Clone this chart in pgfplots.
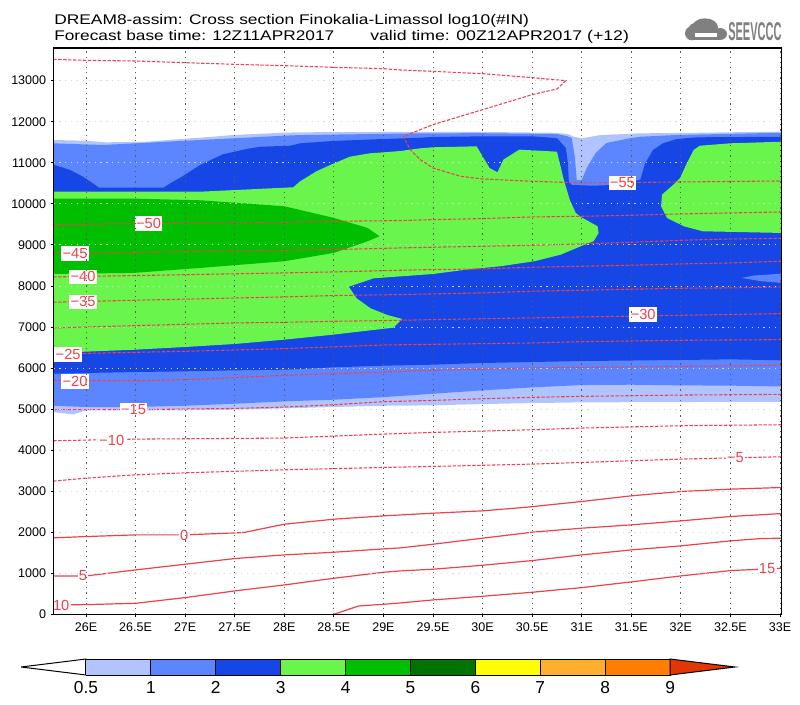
\documentclass[border=0pt]{standalone}
\usepackage{pgfplots}
\pgfplotsset{compat=1.18}
\usepackage{fontspec}
\setmainfont{Liberation Sans}
\definecolor{lvA}{RGB}{178,196,255}
\definecolor{lvB}{RGB}{92,134,255}
\definecolor{lvC}{RGB}{22,70,230}
\definecolor{lvD}{RGB}{105,245,75}
\definecolor{lvE}{RGB}{0,190,0}
\definecolor{lvF}{RGB}{0,115,0}
\definecolor{lvG}{RGB}{255,255,0}
\definecolor{lvH}{RGB}{255,175,45}
\definecolor{lvI}{RGB}{255,125,0}
\definecolor{lvJ}{RGB}{225,55,5}
\definecolor{con}{RGB}{240,65,75}
\definecolor{logo}{RGB}{128,128,128}
\tikzset{
  dcon/.style={con,line width=.8pt,dash pattern=on 2.5pt off 1.2pt},
  scon/.style={con,line width=.9pt},
  lab/.style={fill=white,text=con,inner xsep=1pt,inner ysep=1.5pt,font=\fontsize{11pt}{12pt}\selectfont},
  cell/.style={draw=black,line width=.75pt},
}
\begin{document}
\begin{tikzpicture}
\path[use as bounding box] (0,0) rectangle (600pt,528pt);
\begin{axis}[
  at={(40.125pt,67.275pt)}, anchor=south west,
  scale only axis, width=546pt, height=424.7pt,
  xmin=25.672, xmax=33.015, ymin=0, ymax=13795,
  scaled ticks=false,
  axis on top,
  axis line style={line width=1.2pt},
  xtick={26,26.5,27,27.5,28,28.5,29,29.5,30,30.5,31,31.5,32,32.5,33},
  xticklabels={26E,26.5E,27E,27.5E,28E,28.5E,29E,29.5E,30E,30.5E,31E,31.5E,32E,32.5E,33E},
  ytick={0,1000,2000,3000,4000,5000,6000,7000,8000,9000,10000,11000,12000,13000},
  yticklabels={0,1000,2000,3000,4000,5000,6000,7000,8000,9000,10000,11000,12000,13000},
  xtick pos=bottom, ytick pos=left,
  tick align=outside, major tick length=2pt,
  tick style={black,line width=.6pt},
  tick label style={font=\fontsize{9.4pt}{11pt}\selectfont},
  xticklabel style={yshift=-1pt},
  xmajorgrids, ymajorgrids,
  x grid style={draw=black!65,line width=.6pt,dash pattern=on .9pt off 3pt},
  y grid style={draw=black!15,line width=.6pt,dash pattern=on .9pt off 3.5pt},
  no markers,
]
% log10(#IN) >= 0.5
\addplot[fill=lvA,draw=none] coordinates {(25.67,11554)(26,11537)(26.2,11498)(26.6,11510)(26.95,11578)(27.28,11634)(27.48,11676)(27.99,11732)(28.16,11742)(29,11750)(30,11750)(30.73,11730)(30.86,11700)(30.92,11634)(31,11595)(31.19,11676)(31.59,11717)(32,11725)(32.5,11742)(33.02,11757)
 (33.02,5178)(31,5163)(30.5,5146)(30,5122)(29.5,5090)(29,5080)(28.5,5050)(28,5016)(27.5,4984)(27,4970)(26.5,4970)(26,4967)(25.87,4870)(25.67,4927)};
% >= 1
\addplot[fill=lvB,draw=none] coordinates {(25.67,11473)(26.17,11433)(26.95,11530)(27.28,11571)(27.48,11595)(27.99,11659)(28.16,11675)(29.37,11717)(30,11720)(30.75,11700)(30.85,11650)(30.90,11603)(30.93,11147)(30.95,10580)(31,10580)(31.05,10872)(31.14,11238)(31.25,11482)(31.49,11600)(31.59,11634)(31.95,11676)(33.02,11732)
 (33.02,5550)(32.5,5570)(32,5577)(31.5,5593)(31,5585)(30.5,5528)(30,5455)(29.5,5373)(29,5290)(28.5,5228)(28,5187)(27.5,5130)(27,5081)(26.5,5050)(26,5050)(25.67,5081)};
% >= 2
\addplot[fill=lvC,draw=none] coordinates {(25.67,10955)(25.84,10823)(25.97,10660)(26.07,10499)(26.13,10392)(26.78,10392)(26.85,10499)(26.95,10636)(27.15,10945)(27.38,11206)(27.62,11335)(27.76,11391)(28.06,11415)(28.16,11474)(28.49,11530)(29,11579)(29.37,11610)(29.5,11628)(30,11644)(30.5,11644)(30.75,11600)(30.84,11360)(30.86,10995)(30.87,10538)(30.90,10458)(31.12,10441)(31.3,10458)(31.59,10584)(31.64,10986)(31.72,11313)(31.82,11474)(31.96,11578)(32.16,11620)(33.02,11634)
 (33.02,6187)(32.5,6211)(32,6195)(31,6170)(30.5,6146)(30,6122)(29.5,6081)(29,6057)(28.5,6016)(28,5959)(27.5,5943)(27,5919)(26.5,5902)(25.67,5862)};
\addplot[fill=lvB,draw=none] coordinates {(32.61,8195)(32.74,8252)(33.02,8300)(33.02,8073)(32.81,8114)};
% >= 3
\addplot[fill=lvD,draw=none] coordinates {(25.67,10295)(27.15,10295)(28.09,10403)(28.16,10549)(28.33,10800)(28.48,10962)(28.66,11147)(28.86,11230)(29,11254)(29.17,11286)(29.37,11352)(29.5,11377)(29.94,11401)(30.07,10873)(30.15,10768)(30.21,11076)(30.37,11320)(30.75,11270)(30.82,10580)(30.88,10092)(30.94,9778)(30.99,9680)(31.16,9453)(31.17,9290)(31.12,9088)(30.99,8966)(30.79,8763)(30.52,8600)(30.18,8479)(29.84,8398)(29.5,8290)
 (28.90,8185)(28.65,7981)(28.73,7698)(28.87,7454)(29.04,7291)(29.19,7194)(29.10,6982)(28.46,6804)(28,6691)(27.5,6585)(27,6512)(26.5,6447)(25.67,6366)};
\addplot[fill=lvD,draw=none] coordinates {(32.19,11415)(32.5,11474)(33.02,11513)(33.02,9290)(32.22,9331)(32.03,9453)(31.86,9656)(31.8,9940)(31.81,10224)(31.94,10499)(31.99,10621)(32.06,10986)(32.13,11313)};
% >= 4
\addplot[fill=lvE,draw=none] coordinates {(25.67,10127)(26.48,10127)(27.15,10086)(28,9940)(28.5,9656)(28.84,9412)(28.96,9209)(28.84,9088)(28.5,8804)(28,8601)(27.15,8438)(26.48,8317)(25.67,8292)};
% temperature contours
\addplot[dcon] coordinates {(25.67,13519)(26,13495)(26.5,13479)(27,13438)(27.5,13398)(28,13365)(28.5,13325)(29,13292)(29.17,13260)(29.5,13227)(30,13170)(30.5,13073)(30.84,13000)(30.75,12797)(30.5,12659)(30,12294)(29.5,11929)(29.2,11644)(29.27,11320)(29.37,11076)(29.5,10873)(29.78,10670)(30,10605)(30.5,10549)(31,10508)(32,10532)(33.02,10557)};
\addplot[dcon] coordinates {(25.67,9493)(26.5,9518)(28,9550)(28.5,9575)(29.17,9591)(29.5,9615)(30,9640)(30.5,9680)(31,9696)(31.5,9721)(32,9753)(32.5,9778)(33.02,9802)};
\addplot[dcon] coordinates {(25.67,8803)(26.5,8820)(28,8868)(28.5,8885)(29.17,8925)(29.5,8942)(30,8966)(30.5,8990)(31,9023)(31.5,9063)(32,9112)(32.5,9144)(33.02,9161)};
\addplot[dcon] coordinates {(25.67,8219)(26.5,8252)(28,8317)(28.5,8341)(29.17,8381)(29.5,8398)(30,8414)(30.5,8455)(31,8479)(31.5,8503)(32,8536)(32.5,8560)(33.02,8601)};
\addplot[dcon] coordinates {(25.67,7602)(26.5,7651)(28,7732)(28.5,7765)(29.17,7789)(30,7830)(30.5,7870)(31,7894)(31.5,7919)(32,7943)(32.5,7951)(33.02,7976)};
\addplot[dcon] coordinates {(25.67,6976)(26.5,7033)(27,7065)(27.5,7098)(28,7114)(28.5,7138)(29,7154)(29.5,7179)(31,7244)(33.02,7325)};
\addplot[dcon] coordinates {(25.67,6341)(26.5,6382)(27,6407)(28,6472)(29,6561)(30.5,6610)(31,6642)(32,6675)(33.02,6691)};
\addplot[dcon] coordinates {(25.67,5699)(26.5,5691)(27,5715)(28,5821)(29,5902)(29.5,5943)(30.5,6000)(32,6041)(33.02,6065)};
\addplot[dcon] coordinates {(25.67,4984)(26.5,4984)(27.5,5016)(28,5049)(28.5,5106)(29,5179)(29.5,5211)(30,5252)(30.5,5285)(31,5309)(32,5341)(33.02,5358)};
\addplot[dcon] coordinates {(25.67,4228)(26.5,4268)(28,4293)(28.5,4342)(29,4390)(29.5,4431)(30.5,4496)(31,4537)(32,4594)(33.02,4618)};
\addplot[dcon] coordinates {(25.67,3244)(26,3317)(26.5,3398)(27,3447)(28,3520)(29,3577)(29.5,3602)(30.5,3659)(31,3699)(32,3781)(33.02,3838)};
\addplot[scon] coordinates {(25.67,1862)(26,1894)(26.5,1935)(27,1935)(27.59,1992)(28,2195)(28.5,2317)(29,2398)(29.5,2463)(30,2520)(30.45,2610)(31,2748)(31.5,2886)(32,2992)(32.5,3049)(33.02,3089)};
\addplot[scon] coordinates {(25.67,935)(26,935)(26.5,1081)(27,1220)(27.5,1358)(28,1447)(28.5,1512)(29,1593)(29.17,1618)(29.5,1707)(30,1854)(30.5,2000)(31,2098)(31.5,2179)(32,2276)(32.5,2382)(33.02,2455)};
\addplot[scon] coordinates {(25.67,228)(26,236)(26.5,268)(27,407)(27.5,569)(28,715)(28.5,878)(29,1024)(29.17,1057)(29.5,1098)(30,1195)(30.5,1309)(31,1447)(31.5,1569)(32,1667)(32.5,1789)(32.81,1846)(33.02,1854)};
\addplot[scon] coordinates {(28.5,0)(28.75,203)(29,244)(29.17,276)(29.5,350)(30,439)(30.5,537)(31,650)(31.5,789)(32,935)(32.5,1065)(33.02,1122)};
% contour labels
\node[lab] at (axis cs:26.63,9518) {−50};
\node[lab] at (axis cs:25.89,8787) {−45};
\node[lab] at (axis cs:25.97,8219) {−40};
\node[lab] at (axis cs:25.97,7610) {−35};
\node[lab] at (axis cs:25.82,6325) {−25};
\node[lab] at (axis cs:25.89,5667) {−20};
\node[lab] at (axis cs:26.48,4984) {−15};
\node[lab] at (axis cs:26.26,4236) {−10};
\node[lab] at (axis cs:26.99,1919) {0};
\node[lab] at (axis cs:25.97,935) {5};
\node[lab] at (axis cs:25.75,220) {10};
\node[lab] at (axis cs:31.41,10508) {−55};
\node[lab] at (axis cs:31.62,7300) {−30};
\node[lab] at (axis cs:32.55,3829) {−5};
\node[lab] at (axis cs:32.87,1114) {15};
\end{axis}
% colour bar
\begin{axis}[
  at={(15.825pt,21.75pt)}, anchor=south west,
  scale only axis, width=535.4pt, height=12pt,
  xmin=-1, xmax=10, ymin=0, ymax=1, clip=false,
  axis line style={draw=none},
  ytick=\empty,
  xtick={0,1,2,3,4,5,6,7,8,9},
  xticklabels={0.5,1,2,3,4,5,6,7,8,9},
  major tick length=0pt,
  tick label style={font=\fontsize{13pt}{14pt}\selectfont},
  xticklabel style={yshift=-1.5pt},
]
\addplot[cell,fill=white] coordinates {(-1,.5)(0,1)(0,0)(-1,.5)};
\addplot[cell,fill=lvA] coordinates {(0,0)(1,0)(1,1)(0,1)(0,0)};
\addplot[cell,fill=lvB] coordinates {(1,0)(2,0)(2,1)(1,1)(1,0)};
\addplot[cell,fill=lvC] coordinates {(2,0)(3,0)(3,1)(2,1)(2,0)};
\addplot[cell,fill=lvD] coordinates {(3,0)(4,0)(4,1)(3,1)(3,0)};
\addplot[cell,fill=lvE] coordinates {(4,0)(5,0)(5,1)(4,1)(4,0)};
\addplot[cell,fill=lvF] coordinates {(5,0)(6,0)(6,1)(5,1)(5,0)};
\addplot[cell,fill=lvG] coordinates {(6,0)(7,0)(7,1)(6,1)(6,0)};
\addplot[cell,fill=lvH] coordinates {(7,0)(8,0)(8,1)(7,1)(7,0)};
\addplot[cell,fill=lvI] coordinates {(8,0)(9,0)(9,1)(8,1)(8,0)};
\addplot[cell,fill=lvJ] coordinates {(9,0)(10,.5)(9,1)(9,0)};
\end{axis}
% titles
\node[anchor=base west,inner sep=0pt,font=\fontsize{10.5pt}{12pt}\selectfont] at (40.5pt,509.25pt)
  {\resizebox{356pt}{\height}{DREAM8-assim: Cross section Finokalia-Limassol log10(\#IN)}};
\node[anchor=base west,inner sep=0pt,font=\fontsize{10.5pt}{12pt}\selectfont] at (40.5pt,497.5pt)
  {\resizebox{210pt}{\height}{Forecast base time: 12Z11APR2017}};
\node[anchor=base west,inner sep=0pt,font=\fontsize{10.5pt}{12pt}\selectfont] at (277.5pt,497.5pt)
  {\resizebox{194pt}{\height}{valid time: 00Z12APR2017 (+12)}};
% logo
\fill[logo] (519pt,503pt) ellipse (5.25pt and 5.25pt);
\fill[logo] (522pt,507pt) ellipse (5.25pt and 3.75pt);
\fill[logo] (528.75pt,507.5pt) ellipse (9.75pt and 6.75pt);
\fill[logo] (540pt,502.5pt) ellipse (5.25pt and 4.5pt);
\fill[logo] (518pt,498pt) rectangle (541pt,506pt);
\fill[white] (521.25pt,500.25pt) rectangle (537.75pt,503.25pt);
\node[anchor=south west,inner sep=0pt,text=logo] at (546pt,497.5pt)
  {\resizebox{40pt}{13.5pt}{\bfseries SEEVCCC}};
\end{tikzpicture}
\end{document}
